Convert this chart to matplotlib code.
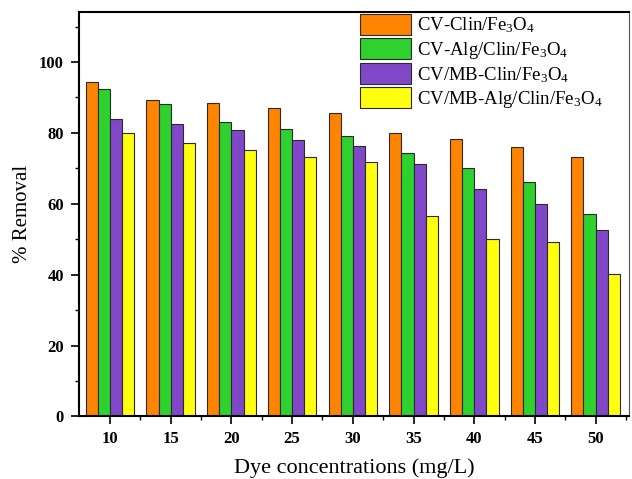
import matplotlib
matplotlib.use("Agg")
import matplotlib.pyplot as plt
import numpy as np
from matplotlib.ticker import FixedLocator

plt.rcParams['font.family'] = ['Liberation Serif', 'DejaVu Serif']
plt.rcParams['mathtext.fontset'] = 'custom'
plt.rcParams['mathtext.rm'] = 'Liberation Serif'
plt.rcParams['mathtext.it'] = 'Liberation Serif:italic'
plt.rcParams['mathtext.bf'] = 'Liberation Serif:bold'

categories = ['10', '15', '20', '25', '30', '35', '40', '45', '50']
series_names = [r'CV-Clin/Fe$_\mathrm{3}$O$_\mathrm{4}$',
                r'CV-Alg/Clin/Fe$_\mathrm{3}$O$_\mathrm{4}$',
                r'CV/MB-Clin/Fe$_\mathrm{3}$O$_\mathrm{4}$',
                r'CV/MB-Alg/Clin/Fe$_\mathrm{3}$O$_\mathrm{4}$']
cv_clin = [94.3, 89.3, 88.3, 87.0, 85.5, 80.1, 78.2, 76.0, 73.1]
cv_alg_clin = [92.3, 88.1, 83.1, 81.1, 79.2, 74.3, 70.1, 66.1, 57.1]
cvmb_clin = [84.0, 82.6, 80.8, 78.1, 76.2, 71.3, 64.2, 59.9, 52.6]
cvmb_alg_clin = [80.1, 77.2, 75.1, 73.2, 71.9, 56.6, 50.1, 49.2, 40.3]
series = [cv_clin, cv_alg_clin, cvmb_clin, cvmb_alg_clin]
colors = ['#FF8400', '#2ED12E', '#8048C8', '#FFFF10']

fig = plt.figure(figsize=(6.32, 4.79), dpi=100)
ax = fig.add_axes([0.125, 0.1305, 0.8703, 0.8451])

x = np.arange(len(categories))
w = 0.2
for i, (vals, c, name) in enumerate(zip(series, colors, series_names)):
    ax.bar(x + (i - 1.5) * w, vals, width=w, color=c, edgecolor='#2a2a2a',
           linewidth=0.8, label=name)

ax.set_xlim(-0.51, 8.55)
ax.set_ylim(0, 114.2)
ax.set_xticks(x)
ax.set_xticklabels(categories)
ax.xaxis.set_minor_locator(FixedLocator(np.arange(0.5, 9, 1.0)))
ax.yaxis.set_major_locator(FixedLocator([0, 20, 40, 60, 80, 100]))
ax.yaxis.set_minor_locator(FixedLocator([10, 30, 50, 70, 90, 110]))

ax.tick_params(axis='both', which='major', direction='out', length=5.8, width=1.2,
               labelsize=12)
ax.tick_params(axis='both', which='minor', direction='out', length=3, width=1.0)
ax.tick_params(axis='x', which='major', pad=5)
ax.tick_params(axis='y', which='major', pad=5)
for lab in ax.get_xticklabels() + ax.get_yticklabels():
    lab.set_fontweight('bold')

for s in ['left', 'bottom', 'top']:
    ax.spines[s].set_linewidth(1.5)
ax.spines['right'].set_linewidth(0.8)
ax.spines['right'].set_color('#555555')

ax.set_xlabel('Dye concentrations (mg/L)', fontsize=16, labelpad=8)
ax.set_ylabel('% Removal', fontsize=15, labelpad=5)

leg = ax.legend(loc='upper left', bbox_to_anchor=(0.511, 0.994), borderaxespad=0,
                fontsize=13.5, handlelength=2.72, handleheight=1.3,
                handletextpad=0.33, labelspacing=0.15, borderpad=0,
                frameon=False)
for p in leg.get_patches():
    p.set_edgecolor('#2a2a2a')

fig.savefig('out.png', dpi=100)
